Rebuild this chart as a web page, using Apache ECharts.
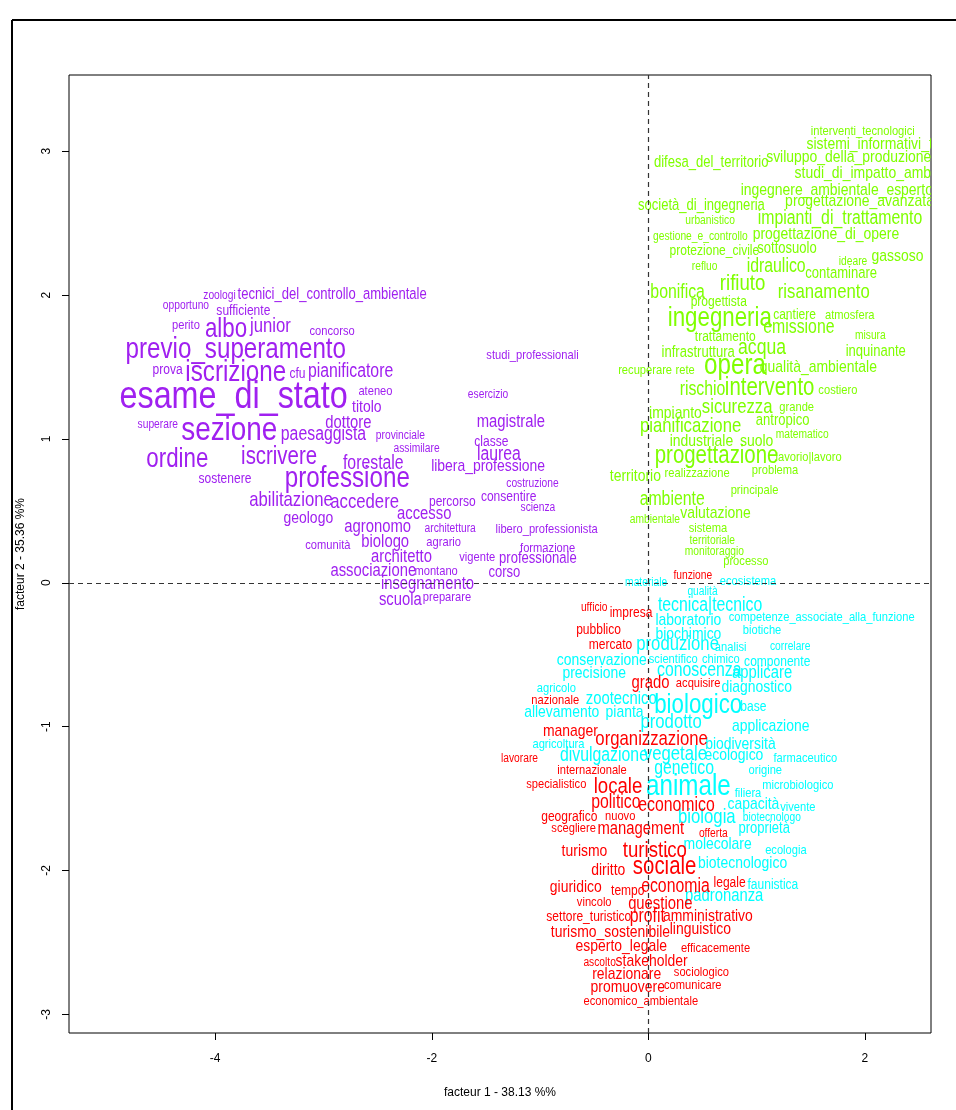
<!DOCTYPE html>
<html>
<head>
<meta charset="utf-8">
<script src="https://cdn.jsdelivr.net/npm/echarts@6/dist/echarts.min.js"></script>
<style>
  html, body { margin: 0; padding: 0; background: #fff; }
  #chart { width: 956px; height: 1110px; }
</style>
</head>
<body>
<div id="chart"></div>
<script>
// Correspondence analysis word map: coordinates on factor 1 / factor 2,
// text size (cex) proportional to each word's weight.

// ---- cluster 1 (purple) ----
const purpleWords = ["zoologi","tecnici_del_controllo_ambientale","opportuno","sufficiente","perito","albo","junior","concorso","previo_superamento","prova","iscrizione","cfu","pianificatore","esame_di_stato","ateneo","titolo","dottore","superare","sezione","paesaggista","provinciale","assimilare","ordine","iscrivere","forestale","sostenere","professione","abilitazione","accedere","geologo","accesso","agronomo","architettura","comunità","biologo","agrario","architetto","vigente","professionale","formazione","associazione","montano","corso","insegnamento","scuola","preparare","percorso","consentire","costruzione","scienza","libero_professionista","libera_professione","studi_professionali","esercizio","magistrale","classe","laurea"];
const purpleX = [-3.96,-2.92,-4.27,-3.74,-4.27,-3.90,-3.49,-2.92,-3.81,-4.44,-3.81,-3.24,-2.75,-3.83,-2.52,-2.60,-2.77,-4.53,-3.87,-3.00,-2.29,-2.14,-4.35,-3.41,-2.54,-3.91,-2.78,-3.30,-2.62,-3.14,-2.07,-2.50,-1.83,-2.96,-2.43,-1.89,-2.28,-1.58,-1.02,-0.93,-2.54,-1.96,-1.33,-2.04,-2.29,-1.86,-1.81,-1.29,-1.07,-1.02,-0.94,-1.48,-1.07,-1.48,-1.27,-1.45,-1.38];
const purpleY = [2.00,2.00,1.93,1.89,1.79,1.76,1.78,1.75,1.62,1.48,1.46,1.45,1.47,1.29,1.33,1.22,1.11,1.10,1.06,1.03,1.02,0.93,0.86,0.87,0.83,0.72,0.72,0.57,0.56,0.45,0.48,0.39,0.38,0.26,0.28,0.28,0.18,0.18,0.17,0.24,0.08,0.08,0.07,-0.01,-0.12,-0.10,0.56,0.60,0.69,0.52,0.37,0.81,1.58,1.31,1.12,0.98,0.89];
const purpleCex = [0.92,1.17,0.92,1.08,1.0,2.0,1.5,1.0,2.17,1.08,2.17,1.08,1.42,2.9,1.0,1.25,1.33,0.92,2.5,1.42,0.92,0.92,2.0,1.83,1.42,1.08,2.17,1.5,1.5,1.25,1.33,1.33,0.92,1.0,1.33,1.0,1.33,1.0,1.17,1.0,1.33,1.0,1.17,1.33,1.33,1.0,1.08,1.08,0.92,0.92,1.0,1.25,1.0,0.92,1.33,1.08,1.42];

// ---- cluster 2 (green) ----
const greenWords = ["interventi_tecnologici","sistemi_informativi_territoriali","difesa_del_territorio","sviluppo_della_produzione","studi_di_impatto_ambientale","ingegnere_ambientale_esperto","società_di_ingegneria","progettazione_avanzata","urbanistico","impianti_di_trattamento","gestione_e_controllo","progettazione_di_opere","protezione_civile","sottosuolo","gassoso","ideare","refluo","idraulico","contaminare","bonifica","rifiuto","risanamento","progettista","ingegneria","cantiere","atmosfera","emissione","misura","trattamento","infrastruttura","acqua","inquinante","recuperare","rete","opera","qualità_ambientale","rischio","intervento","costiero","impianto","sicurezza","grande","antropico","pianificazione","matematico","industriale","suolo","progettazione","lavorio|lavoro","territorio","realizzazione","problema","principale","ambiente","valutazione","ambientale","sistema","territoriale","monitoraggio","processo"];
const greenX = [1.98,2.29,0.58,1.85,2.17,1.74,0.49,1.95,0.57,1.77,0.48,1.64,0.61,1.28,2.30,1.89,0.52,1.18,1.78,0.27,0.87,1.62,0.65,0.66,1.35,1.86,1.39,2.05,0.71,0.46,1.05,2.10,-0.03,0.34,0.80,1.57,0.50,1.12,1.75,0.25,0.82,1.37,1.24,0.39,1.42,0.49,1.00,0.63,1.48,-0.12,0.45,1.17,0.98,0.22,0.62,0.06,0.55,0.59,0.61,0.90];
const greenY = [3.14,3.05,2.92,2.96,2.85,2.73,2.62,2.65,2.52,2.53,2.41,2.42,2.31,2.32,2.27,2.23,2.20,2.20,2.15,2.02,2.08,2.02,1.95,1.84,1.86,1.86,1.77,1.72,1.71,1.60,1.63,1.61,1.48,1.48,1.51,1.50,1.34,1.35,1.34,1.18,1.22,1.22,1.13,1.09,1.03,0.98,0.98,0.88,0.87,0.74,0.76,0.78,0.64,0.58,0.48,0.44,0.38,0.29,0.22,0.15];
const greenCex = [1.0,1.25,1.17,1.25,1.25,1.25,1.17,1.25,0.92,1.42,0.92,1.25,1.08,1.17,1.25,0.92,0.92,1.42,1.17,1.42,1.67,1.5,1.08,2.0,1.08,1.0,1.42,0.92,1.08,1.17,1.58,1.17,1.0,1.0,2.17,1.25,1.42,1.83,1.0,1.25,1.5,1.0,1.17,1.5,0.92,1.25,1.25,1.83,1.0,1.25,1.0,1.0,1.0,1.42,1.25,0.92,1.0,0.92,0.92,1.0];

// ---- cluster 3 (cyan) ----
const cyanWords = ["materiale","ecosistema","qualità","tecnica|tecnico","laboratorio","competenze_associate_alla_funzione","biochimico","biotiche","produzione","analisi","correlare","conservazione","scientifico","chimico","componente","precisione","conoscenza","applicare","diagnostico","agricolo","zootecnico","biologico","base","allevamento","pianta","prodotto","applicazione","biodiversità","agricoltura","divulgazione","vegetale","ecologico","farmaceutico","genetico","origine","animale","filiera","microbiologico","capacità","vivente","biologia","biotecnologo","proprietà","molecolare","ecologia","biotecnologico","faunistica","padronanza"];
const cyanX = [-0.02,0.92,0.50,0.57,0.37,1.60,0.37,1.05,0.27,0.76,1.31,-0.43,0.23,0.67,1.19,-0.50,0.47,1.05,1.00,-0.85,-0.25,0.46,0.97,-0.80,-0.22,0.21,1.13,0.85,-0.83,-0.41,0.25,0.79,1.45,0.33,1.08,0.37,0.92,1.38,0.97,1.38,0.54,1.14,1.07,0.64,1.27,0.87,1.15,0.70];
const cyanY = [0.00,0.01,-0.06,-0.16,-0.26,-0.24,-0.36,-0.33,-0.43,-0.45,-0.44,-0.54,-0.53,-0.53,-0.55,-0.63,-0.61,-0.63,-0.73,-0.73,-0.81,-0.85,-0.86,-0.90,-0.90,-0.97,-1.00,-1.12,-1.12,-1.20,-1.19,-1.20,-1.22,-1.29,-1.30,-1.42,-1.46,-1.41,-1.54,-1.56,-1.63,-1.63,-1.71,-1.82,-1.86,-1.95,-2.10,-2.18];
const cyanCex = [0.92,1.0,0.92,1.42,1.25,1.0,1.25,1.0,1.5,1.0,0.92,1.25,1.0,1.0,1.08,1.25,1.42,1.33,1.25,1.0,1.33,2.0,1.08,1.25,1.25,1.5,1.25,1.25,1.0,1.42,1.5,1.25,1.0,1.42,1.0,2.17,1.0,1.0,1.25,1.0,1.5,0.92,1.17,1.25,1.0,1.25,1.08,1.33];

// ---- cluster 4 (red) ----
const redWords = ["funzione","ufficio","impresa","pubblico","mercato","grado","acquisire","nazionale","manager","organizzazione","lavorare","internazionale","specialistico","locale","politico","economico","geografico","nuovo","scegliere","management","offerta","turismo","turistico","diritto","sociale","giuridico","tempo","economia","legale","vincolo","questione","settore_turistico","profit","amministrativo","turismo_sostenibile","linguistico","esperto_legale","efficacemente","ascolto","stakeholder","relazionare","sociologico","promuovere","comunicare","economico_ambientale"];
const redX = [0.41,-0.50,-0.16,-0.46,-0.35,0.02,0.46,-0.86,-0.72,0.03,-1.19,-0.52,-0.85,-0.28,-0.30,0.26,-0.73,-0.26,-0.69,-0.07,0.60,-0.59,0.06,-0.37,0.15,-0.67,-0.19,0.25,0.75,-0.50,0.11,-0.55,-0.01,0.55,-0.35,0.48,-0.25,0.62,-0.45,0.03,-0.20,0.49,-0.19,0.41,-0.07];
const redY = [0.05,-0.17,-0.21,-0.33,-0.43,-0.70,-0.70,-0.82,-1.03,-1.09,-1.22,-1.30,-1.40,-1.42,-1.53,-1.55,-1.63,-1.62,-1.71,-1.71,-1.74,-1.87,-1.86,-2.00,-1.98,-2.12,-2.14,-2.11,-2.09,-2.22,-2.23,-2.32,-2.32,-2.32,-2.43,-2.41,-2.53,-2.54,-2.64,-2.63,-2.72,-2.71,-2.81,-2.80,-2.91];
const redCex = [0.92,0.92,1.08,1.08,1.08,1.33,1.0,1.0,1.25,1.5,0.92,1.0,1.0,1.67,1.42,1.42,1.08,1.0,1.0,1.33,0.92,1.25,1.67,1.25,1.83,1.25,1.08,1.42,1.08,1.0,1.33,1.08,1.42,1.25,1.25,1.25,1.25,1.0,0.92,1.25,1.25,1.0,1.25,1.0,1.0];

// ---- axes ----
const xTicks = [-4, -2, 0, 2];
const yTicks = [-3, -2, -1, 0, 1, 2, 3];
const xTitle = "facteur 1 - 38.13 %%";
const yTitle = "facteur 2 - 35.36 %%";

const BASE_PX = 13.6;      // font size for cex = 1
const NARROW = 0.82;       // horizontal condensing of the word glyphs
const WORD_FONT = '"Liberation Sans", Arial, sans-serif';
const AXIS_FONT = '"Liberation Sans Narrow", "Liberation Sans", Arial, sans-serif';

function wordSeries(words, xs, ys, cex, color) {
  return {
    type: 'custom',
    coordinateSystem: 'cartesian2d',
    clip: true,
    silent: true,
    z: 2,
    data: xs.map((x, i) => [x, ys[i]]),
    encode: { x: 0, y: 1 },
    renderItem: function (params, api) {
      const i = params.dataIndex;
      const p = api.coord([api.value(0), api.value(1)]);
      return {
        type: 'text',
        x: p[0],
        y: p[1],
        scaleX: NARROW,
        style: {
          text: words[i],
          fill: color,
          fontFamily: WORD_FONT,
          fontSize: cex[i] * BASE_PX,
          align: 'center',
          verticalAlign: 'middle'
        }
      };
    }
  };
}

const chart = echarts.init(document.getElementById('chart'), null, { renderer: 'canvas' });

chart.setOption({
  backgroundColor: '#ffffff',
  animation: false,
  grid: {
    left: 69, right: 25, top: 75, bottom: 77,
    show: true, borderColor: '#000', borderWidth: 1, backgroundColor: 'transparent'
  },
  xAxis: {
    type: 'value',
    min: -5.35, max: 2.61,
    splitLine: { show: false },
    axisLine: { show: false, onZero: false },
    axisTick: { show: true, length: 7, inside: false, customValues: xTicks, lineStyle: { color: '#000' } },
    axisLabel: { customValues: xTicks, margin: 20, color: '#000', fontSize: 12, fontFamily: AXIS_FONT },
    name: xTitle,
    nameLocation: 'middle',
    nameGap: 54,
    nameTextStyle: { color: '#000', fontSize: 12, fontFamily: AXIS_FONT }
  },
  yAxis: {
    type: 'value',
    min: -3.13, max: 3.53,
    splitLine: { show: false },
    axisLine: { show: false, onZero: false },
    axisTick: { show: true, length: 7, inside: false, customValues: yTicks, lineStyle: { color: '#000' } },
    axisLabel: { customValues: yTicks, rotate: 90, margin: 16, color: '#000', fontSize: 12, fontFamily: AXIS_FONT },
    name: yTitle,
    nameLocation: 'middle',
    nameGap: 42,
    nameRotate: 90,
    nameTextStyle: { color: '#000', fontSize: 12, fontFamily: AXIS_FONT }
  },
  graphic: [
    { type: 'line', shape: { x1: 12, y1: 20, x2: 956, y2: 20 }, style: { stroke: '#000', lineWidth: 2 } },
    { type: 'line', shape: { x1: 12, y1: 20, x2: 12, y2: 1110 }, style: { stroke: '#000', lineWidth: 2 } }
  ],
  series: [
    wordSeries(purpleWords, purpleX, purpleY, purpleCex, '#A020F0'),
    wordSeries(greenWords, greenX, greenY, greenCex, '#7FFF00'),
    wordSeries(cyanWords, cyanX, cyanY, cyanCex, '#00FFFF'),
    wordSeries(redWords, redX, redY, redCex, '#FF0000'),
    {
      type: 'scatter',
      data: [],
      z: 5,
      silent: true,
      markLine: {
        silent: true,
        symbol: 'none',
        animation: false,
        label: { show: false },
        lineStyle: { color: '#333', width: 1.2, type: [5, 4] },
        data: [{ xAxis: 0 }, { yAxis: 0 }]
      }
    }
  ]
});
</script>
</body>
</html>
